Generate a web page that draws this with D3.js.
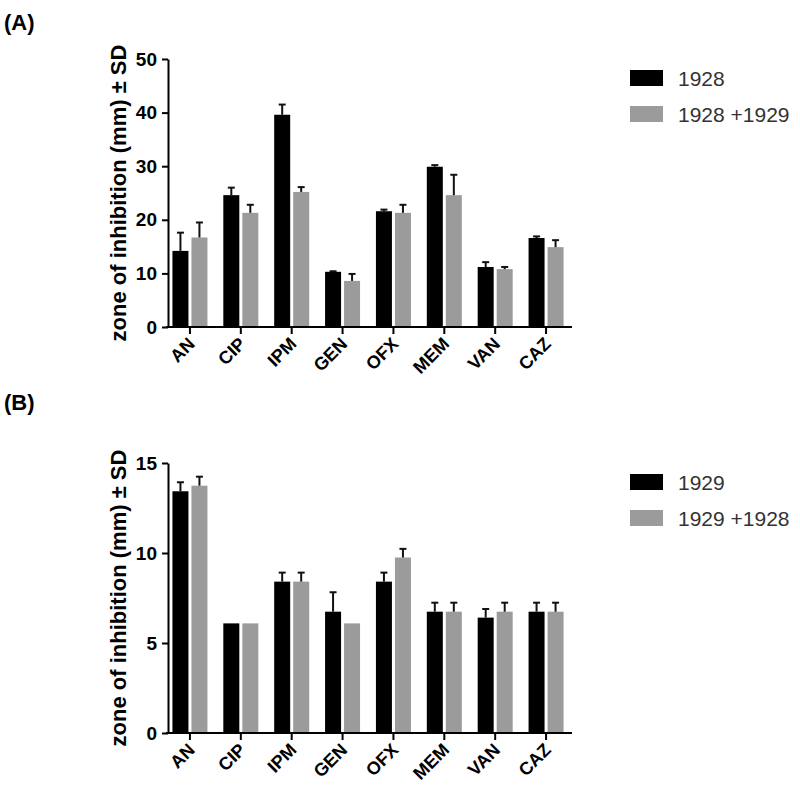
<!DOCTYPE html>
<html>
<head>
<meta charset="utf-8">
<script src="https://cdn.jsdelivr.net/npm/d3@7"></script>
<style>
body { margin: 0; background: #fff; }
text { font-family: "Liberation Sans", Arial, sans-serif; }
</style>
</head>
<body>
<div id="chart"></div>
<script>
// drugs on the x axis
var drugs = ["AN", "CIP", "IPM", "GEN", "OFX", "MEM", "VAN", "CAZ"];

// panel A
var seriesA = ["1928", "1928 +1929"];
var meanA1 = [14.2, 24.6, 39.6, 10.3, 21.6, 29.9, 11.2, 16.6];
var sdA1   = [3.4, 1.4, 1.9, 0.1, 0.3, 0.3, 0.9, 0.3];
var meanA2 = [16.7, 21.3, 25.2, 8.6, 21.3, 24.6, 10.8, 14.9];
var sdA2   = [2.8, 1.5, 0.9, 1.3, 1.5, 3.8, 0.4, 1.3];
var ticksA = [0, 10, 20, 30, 40, 50];

// panel B
var seriesB = ["1929", "1929 +1928"];
var meanB1 = [13.43, 6.09, 8.41, 6.74, 8.41, 6.74, 6.41, 6.74];
var sdB1   = [0.5, 0, 0.5, 1.08, 0.5, 0.5, 0.48, 0.5];
var meanB2 = [13.74, 6.09, 8.41, 6.09, 9.75, 6.74, 6.74, 6.74];
var sdB2   = [0.5, 0, 0.5, 0, 0.48, 0.5, 0.5, 0.5];
var ticksB = [0, 5, 10, 15];

var colors = ["#000000", "#9b9b9b"];

var svg = d3.select("#chart").append("svg")
	.attr("width", 800)
	.attr("height", 799);

function drawPanel(letter, letterY, top, bottom, yMax, ticks, series, means, sds, legendY) {
	var g = svg.append("g");

	var x = d3.scaleBand().domain(drugs).range([164.5, 571.5]);
	var xs = d3.scaleBand().domain(series).range([-17.5, 17.5]).paddingInner(0.158);
	var y = d3.scaleLinear().domain([0, yMax]).range([bottom, top]);

	g.append("text")
		.attr("x", 4).attr("y", letterY)
		.attr("font-size", 22).attr("font-weight", "bold")
		.text(letter);

	// bars + error bars
	series.forEach(function(s, k) {
		var rows = drugs.map(function(d, i) { return { drug: d, m: means[k][i], sd: sds[k][i] }; });
		var sg = g.append("g");
		sg.selectAll("rect")
			.data(rows)
			.enter()
			.append("rect")
			.attr("x", function(d) { return x(d.drug) + x.bandwidth() / 2 + xs(s); })
			.attr("width", xs.bandwidth())
			.attr("y", function(d) { return y(d.m); })
			.attr("height", function(d) { return y(0) - y(d.m); })
			.attr("fill", colors[k]);

		var eb = rows.filter(function(d) { return d.sd > 0; });
		sg.selectAll("line.err")
			.data(eb)
			.enter()
			.append("line")
			.attr("class", "err")
			.attr("stroke", "#111").attr("stroke-width", 2)
			.attr("x1", function(d) { return x(d.drug) + x.bandwidth() / 2 + xs(s) + xs.bandwidth() / 2; })
			.attr("x2", function(d) { return x(d.drug) + x.bandwidth() / 2 + xs(s) + xs.bandwidth() / 2; })
			.attr("y1", function(d) { return y(d.m); })
			.attr("y2", function(d) { return y(d.m + d.sd); });
		sg.selectAll("line.cap")
			.data(eb)
			.enter()
			.append("line")
			.attr("class", "cap")
			.attr("stroke", "#111").attr("stroke-width", 2)
			.attr("x1", function(d) { return x(d.drug) + x.bandwidth() / 2 + xs(s) + xs.bandwidth() / 2 - 3.5; })
			.attr("x2", function(d) { return x(d.drug) + x.bandwidth() / 2 + xs(s) + xs.bandwidth() / 2 + 3.5; })
			.attr("y1", function(d) { return y(d.m + d.sd); })
			.attr("y2", function(d) { return y(d.m + d.sd); });
	});

	// y axis
	var ya = g.append("g")
		.attr("transform", "translate(168,0)")
		.call(d3.axisLeft(y).tickValues(ticks).tickSize(6).tickPadding(5).tickSizeOuter(0));
	ya.selectAll("path, line").attr("stroke", "#000").attr("stroke-width", 2);
	ya.selectAll("text")
		.attr("font-size", 19).attr("font-weight", "bold")
		.attr("font-family", "Liberation Sans, Arial, sans-serif")
		.attr("fill", "#000");

	// x axis
	var xa = g.append("g")
		.attr("transform", "translate(0," + bottom + ")")
		.call(d3.axisBottom(x).tickSize(7).tickSizeOuter(0));
	xa.select("path").attr("d", "M166,0H572").attr("stroke", "#000").attr("stroke-width", 2);
	xa.selectAll("line").attr("stroke", "#000").attr("stroke-width", 2);
	xa.selectAll("text")
		.attr("font-size", 18).attr("font-weight", "bold")
		.attr("font-family", "Liberation Sans, Arial, sans-serif")
		.attr("fill", "#000")
		.attr("text-anchor", "end")
		.attr("y", 0).attr("dy", 0)
		.attr("transform", "translate(6,18) rotate(-45)");

	// y title
	g.append("text")
		.attr("transform", "translate(126," + ((top + bottom) / 2) + ") rotate(-90)")
		.attr("text-anchor", "middle")
		.attr("font-size", 22).attr("font-weight", "bold")
		.text("zone of inhibition (mm) \u00b1 SD");

	// legend
	var lg = g.append("g").attr("transform", "translate(630," + legendY + ")");
	series.forEach(function(s, k) {
		lg.append("rect")
			.attr("x", 0).attr("y", k * 36)
			.attr("width", 33).attr("height", 16)
			.attr("fill", colors[k]);
		lg.append("text")
			.attr("x", 48).attr("y", k * 36 + 16)
			.attr("font-size", 21)
			.attr("fill", "#333")
			.text(s);
	});
}

drawPanel("(A)", 30, 59, 327, 50, ticksA, seriesA, [meanA1, meanA2], [sdA1, sdA2], 70);
drawPanel("(B)", 410, 463, 733, 15, ticksB, seriesB, [meanB1, meanB2], [sdB1, sdB2], 474);
</script>
</body>
</html>
